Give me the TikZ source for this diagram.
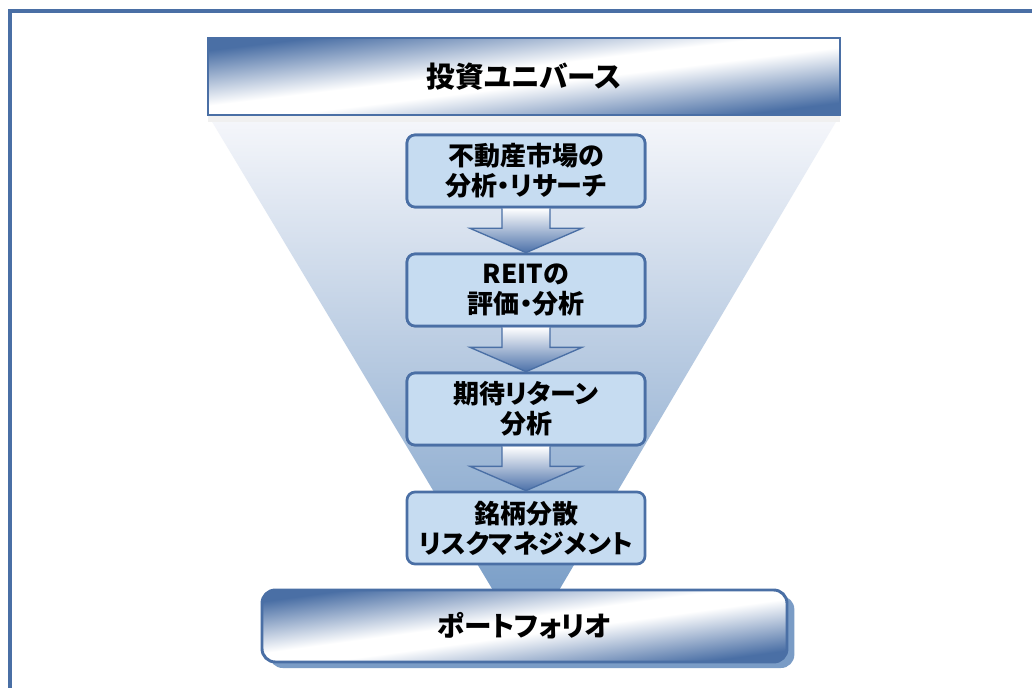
\documentclass[tikz,border=0pt]{standalone}
\usepackage{fontspec}
\setmainfont{Noto Sans CJK JP}[RawFeature=+palt]
\usetikzlibrary{calc,shadows}
\definecolor{frameblue}{HTML}{4A6FA5}
\definecolor{boxfill}{HTML}{C6DCF1}
\definecolor{funneltop}{HTML}{F6F7FB}
\definecolor{funnelbot}{HTML}{7B9FC8}
\definecolor{shadowblue}{HTML}{7A9CC6}
\definecolor{arrowblue}{HTML}{4C71A9}
\pgfdeclarefunctionalshading{bannershade}{\pgfpoint{0bp}{0bp}}{\pgfpoint{100bp}{100bp}}{}{
  25 sub 50 div exch 25 sub 50 div exch sub abs
  0.12 sub 0.72 div dup 0 lt {pop 0} if dup 1 gt {pop 1} if
  dup 0.71 mul 1 exch sub exch
  dup 0.565 mul 1 exch sub exch
  0.353 mul 1 exch sub
}
\tikzset{
  stepbox/.style={draw=frameblue, line width=2pt, fill=boxfill, rounded corners=6pt,
    minimum width=178.5pt, minimum height=54pt, align=center, inner sep=0pt,
    font=\bfseries\fontsize{19.5}{22.5}\selectfont},
  banner/.style={draw=frameblue, line width=2.2pt, shade, shading=bannershade,
    inner sep=0pt, align=center},
  blockarrow/.style={top color=white, bottom color=arrowblue, draw=frameblue, line width=1pt, line join=miter},
}
\newcommand{\stepArrow}[2]{%
  \shade[blockarrow] ($(#1.south)+(-24,0)$) -- ($(#1.south)+(-24,20)$) -- ($(#1.south)+(-56,20)$)
    -- (#2.north) -- ($(#1.south)+(56,20)$) -- ($(#1.south)+(24,20)$) -- ($(#1.south)+(24,0)$);}
\begin{document}
\begin{tikzpicture}[x=0.75pt,y=-0.75pt]
\useasboundingbox (0,0) rectangle (1032,688);
\fill[white] (0,0) rectangle (1032,688);
\draw[frameblue, line width=2.3pt] (10,11) rectangle (1050,705);
% funnel
\shade[top color=funneltop, bottom color=funnelbot] (208,115) -- (840,115) -- (558,592) -- (494,592) -- cycle;
% top banner
\node[banner, minimum width=474pt, minimum height=57.75pt, font=\bfseries\fontsize{21.5}{24}\selectfont,
  drop shadow={shadow xshift=0pt, shadow yshift=-5pt, fill=black!6, opacity=1}]
  (uni) at (524,76.5) {投資ユニバース};
% steps
\node[stepbox] (b1) at (526,171) {不動産市場の\\分析・リサーチ};
\node[stepbox] (b2) at (526,290) {REITの\\評価・分析};
\node[stepbox] (b3) at (526,409) {期待リターン\\分析};
\node[stepbox] (b4) at (526,528) {銘柄分散\\リスクマネジメント};
\stepArrow{b1}{b2}
\stepArrow{b2}{b3}
\stepArrow{b3}{b4}
% redraw boxes over arrow shafts
\node[stepbox] at (b1) {不動産市場の\\分析・リサーチ};
\node[stepbox] at (b2) {REITの\\評価・分析};
\node[stepbox] at (b3) {期待リターン\\分析};
% portfolio
\node[banner, rounded corners=10pt, minimum width=393.75pt, minimum height=54pt,
  font=\bfseries\fontsize{20.7}{24}\selectfont,
  drop shadow={shadow xshift=5.5pt, shadow yshift=-4.5pt, fill=shadowblue, opacity=1}]
  (port) at (524.5,626) {ポートフォリオ};
\end{tikzpicture}
\end{document}
